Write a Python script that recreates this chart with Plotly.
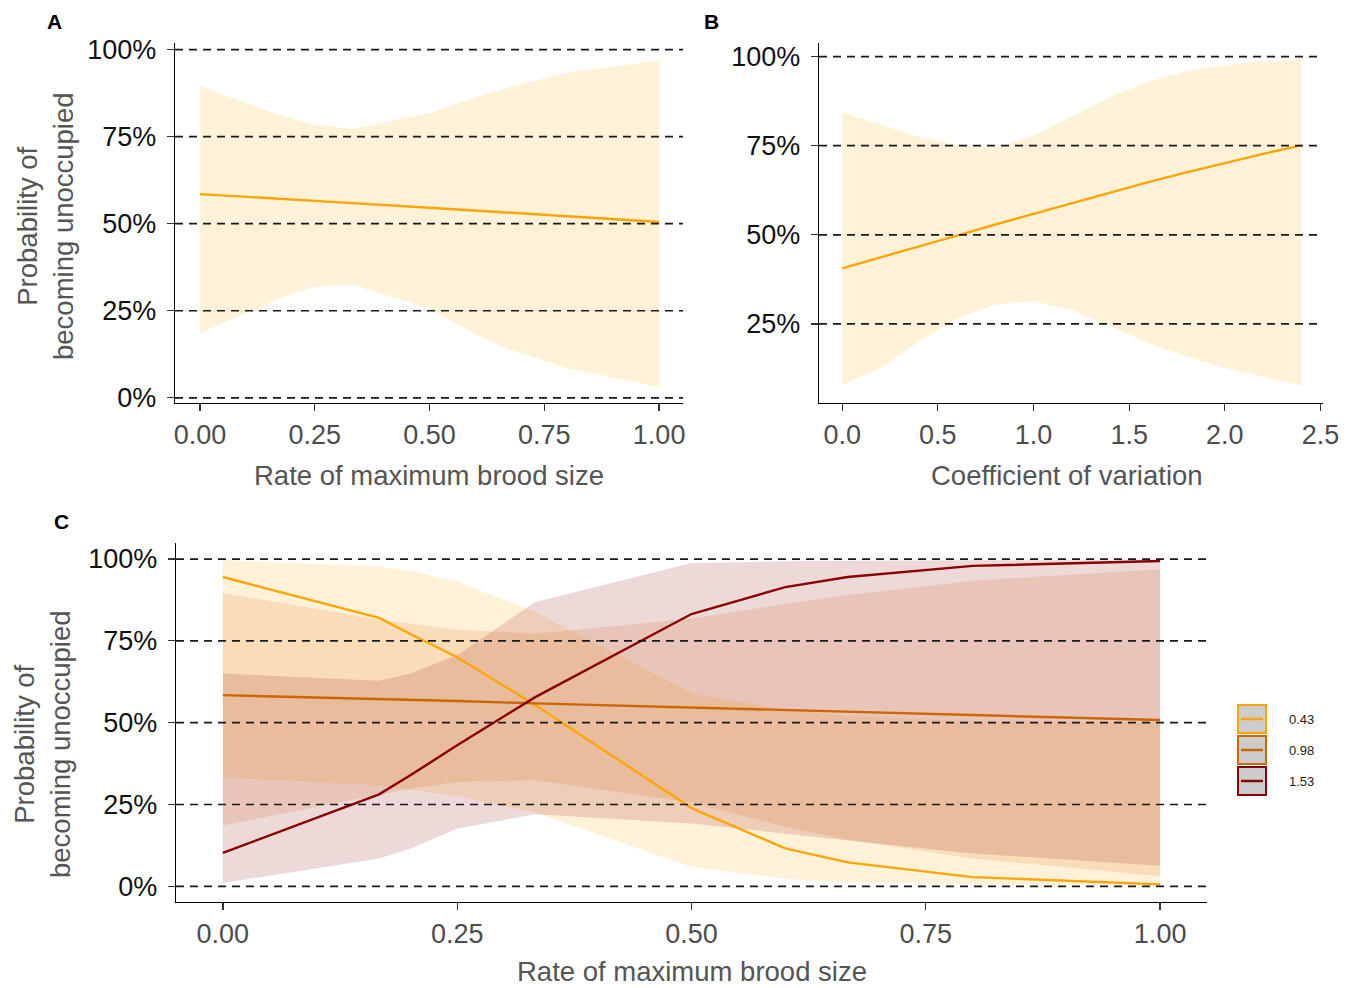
import plotly.graph_objects as go

# body margin is removed by a post script, so the figure fills the page
OFF = 0
W, H = 1356, 988

# ---------------- data ----------------
# Panel A: rate of maximum brood size
A_X = [0, 0.1667, 0.2, 0.25, 0.3333, 0.5, 0.6, 0.6667, 0.8, 1.0]
A_LINE = [58.5, 57.3, 57.0, 56.6, 55.9, 54.6, 53.8, 53.3, 52.2, 50.5]
A_UPPER = [89.6, 81.5, 80.3, 78.4, 77.2, 81.8, 86.3, 89.0, 93.4, 96.9]
A_LOWER = [18.6, 28.0, 29.8, 31.9, 32.4, 25.6, 18.2, 14.2, 8.5, 3.1]

# Panel B: coefficient of variation
B_X = [0, 0.2, 0.4, 0.6, 0.8, 1.0, 1.2, 1.4, 1.6, 1.8, 2.0, 2.2, 2.4]
B_LINE = [40.6, 43.6, 46.7, 49.8, 52.9, 55.9, 59.0, 61.9, 64.8, 67.5, 70.2, 72.7, 75.1]
B_UPPER = [84.4, 81.0, 77.5, 75.2, 74.5, 77.8, 83.2, 88.7, 93.0, 95.9, 97.6, 98.7, 99.0]
B_LOWER = [7.9, 12.6, 20.0, 26.5, 30.4, 31.3, 29.0, 24.3, 19.6, 15.8, 12.6, 10.2, 7.7]

# Panel C: three coefficient-of-variation levels
C_X = [0, 0.1667, 0.2, 0.25, 0.3333, 0.5, 0.6, 0.6667, 0.8, 1.0]
C_LEVELS = ["0.43", "0.98", "1.53"]
C_LINE_043 = [94.5, 82.0, 77.1, 70.0, 55.4, 23.9, 11.6, 7.3, 2.8, 0.6]
C_UPPER_043 = [99.7, 97.7, 96.4, 93.1, 83.9, 58.9, 54.0, 52.0, 50.5, 50.0]
C_LOWER_043 = [33.4, 30.8, 29.6, 27.5, 22.5, 5.9, 2.2, 1.3, 0.6, 0.2]
C_LINE_098 = [58.4, 57.3, 57.0, 56.6, 55.9, 54.6, 53.8, 53.3, 52.3, 50.8]
C_UPPER_098 = [89.6, 81.5, 80.3, 78.4, 77.2, 81.8, 86.3, 89.0, 93.4, 96.9]
C_LOWER_098 = [18.6, 28.0, 29.8, 31.9, 32.4, 25.6, 18.2, 14.2, 8.5, 3.1]
C_LINE_153 = [10.2, 28.1, 33.9, 43.1, 57.8, 83.2, 91.4, 94.5, 97.9, 99.4]
C_UPPER_153 = [65.0, 62.8, 65.0, 70.6, 86.9, 98.8, 99.3, 99.5, 99.6, 99.7]
C_LOWER_153 = [1.0, 8.5, 11.5, 17.6, 22.0, 19.2, 16.1, 14.0, 10.0, 6.3]

Y_TICKS = [0, 25, 50, 75, 100]
Y_TICKTEXT = ["0%", "25%", "50%", "75%", "100%"]
B_Y_TICKS = [25, 50, 75, 100]
B_Y_TICKTEXT = ["25%", "50%", "75%", "100%"]
A_X_TICKS = [0, 0.25, 0.5, 0.75, 1.0]
A_X_TICKTEXT = ["0.00", "0.25", "0.50", "0.75", "1.00"]
B_X_TICKS = [0, 0.5, 1.0, 1.5, 2.0, 2.5]
B_X_TICKTEXT = ["0.0", "0.5", "1.0", "1.5", "2.0", "2.5"]
HLINES = [0, 25, 50, 75, 100]
B_HLINES = [25, 50, 75, 100]

# ---------------- styles ----------------
COL = {"0.43": "#FFA500", "0.98": "#CD6600", "1.53": "#8B0000"}
FILL = {"0.43": "rgba(255,165,0,0.15)", "0.98": "rgba(205,102,0,0.15)", "1.53": "rgba(139,0,0,0.15)"}
FONT = "Liberation Sans, Arial, Helvetica, sans-serif"
LW = 2.4
TICK_SIZE = 27
TITLE_SIZE = 27.5

fig = go.Figure()


def add_band(x, lo, hi, fill, xa, ya):
    fig.add_trace(go.Scatter(
        x=list(x) + list(x)[::-1], y=list(hi) + list(lo)[::-1],
        fill="toself", fillcolor=fill, line=dict(width=0), mode="lines",
        hoverinfo="skip", showlegend=False, xaxis=xa, yaxis=ya))


def add_line(x, y, color, xa, ya):
    fig.add_trace(go.Scatter(x=x, y=y, mode="lines", line=dict(color=color, width=LW),
                             showlegend=False, xaxis=xa, yaxis=ya))


# Panel A
add_band(A_X, A_LOWER, A_UPPER, FILL["0.43"], "x", "y")
add_line(A_X, A_LINE, COL["0.43"], "x", "y")
# Panel B
add_band(B_X, B_LOWER, B_UPPER, FILL["0.43"], "x2", "y2")
add_line(B_X, B_LINE, COL["0.43"], "x2", "y2")
# Panel C
c_bands = [(C_LOWER_043, C_UPPER_043), (C_LOWER_098, C_UPPER_098), (C_LOWER_153, C_UPPER_153)]
c_lines = [C_LINE_043, C_LINE_098, C_LINE_153]
for lev, (lo, hi) in zip(C_LEVELS, c_bands):
    add_band(C_X, lo, hi, FILL[lev], "x3", "y3")
for lev, ln in zip(C_LEVELS, c_lines):
    add_line(C_X, ln, COL[lev], "x3", "y3")


def PX(p):  # page pixel x -> paper
    return (p - OFF) / W


def PY(p):  # page pixel y -> paper
    return 1 - (p - OFF) / H


def xdom(a, b):
    return [PX(a), PX(b)]


def ydom(top, bottom):
    return [PY(bottom), PY(top)]


def axis_common(color):
    return dict(showgrid=False, zeroline=False, showline=True, linecolor="black",
                linewidth=1.4, ticks="outside", ticklen=7, tickwidth=1.3, tickcolor="#333333",
                tickfont=dict(family=FONT, size=TICK_SIZE, color=color), tickmode="array",
                fixedrange=True, automargin=False)


fig.update_layout(
    template="none",
    width=W, height=H, margin=dict(l=0, r=0, t=0, b=0, pad=0), autosize=False,
    plot_bgcolor="white", paper_bgcolor="white", showlegend=False,
    xaxis=dict(**axis_common("#4D4D4D"), domain=xdom(175, 683), range=[-0.0545, 1.052],
               tickvals=A_X_TICKS, ticktext=A_X_TICKTEXT, anchor="y", ticklabelstandoff=0),
    yaxis=dict(**axis_common("#111111"), domain=ydom(43, 403), range=[-1.5, 101.9],
               tickvals=Y_TICKS, ticktext=Y_TICKTEXT, anchor="x", ticklabelstandoff=5),
    xaxis2=dict(**axis_common("#4D4D4D"), domain=xdom(819, 1323), range=[-0.121, 2.513],
                tickvals=B_X_TICKS, ticktext=B_X_TICKTEXT, anchor="y2", ticklabelstandoff=0),
    yaxis2=dict(**axis_common("#111111"), domain=ydom(43, 403), range=[2.83, 103.8],
                tickvals=B_Y_TICKS, ticktext=B_Y_TICKTEXT, anchor="x2", ticklabelstandoff=5),
    xaxis3=dict(**axis_common("#4D4D4D"), domain=xdom(176, 1207), range=[-0.05, 1.05],
                tickvals=A_X_TICKS, ticktext=A_X_TICKTEXT, anchor="y3", ticklabelstandoff=0),
    yaxis3=dict(**axis_common("#111111"), domain=ydom(543, 902), range=[-4.8, 104.9],
                tickvals=Y_TICKS, ticktext=Y_TICKTEXT, anchor="x3", ticklabelstandoff=5),
)

shapes = []
DASH = dict(color="#1a1a1a", width=1.7, dash="8px,6px")
for v in HLINES:
    shapes.append(dict(type="line", xref="x domain", yref="y", x0=0, x1=1, y0=v, y1=v,
                       line=DASH, layer="above"))
    shapes.append(dict(type="line", xref="x3 domain", yref="y3", x0=0, x1=1, y0=v, y1=v,
                       line=DASH, layer="above"))
for v in B_HLINES:
    shapes.append(dict(type="line", xref="x2 domain", yref="y2", x0=0, x1=1, y0=v, y1=v,
                       line=DASH, layer="above"))

# legend for panel C (manual keys)
annotations = []
key_tops = [705, 736, 767]
for lev, top in zip(C_LEVELS, key_tops):
    x0, x1 = 1238, 1266
    y0, y1 = top, top + 28
    shapes.append(dict(type="rect", xref="paper", yref="paper",
                       x0=PX(x0), x1=PX(x1), y0=PY(y1), y1=PY(y0),
                       fillcolor="#CCCCCC", line=dict(color=COL[lev], width=2)))
    ym = PY((y0 + y1) / 2)
    shapes.append(dict(type="line", xref="paper", yref="paper",
                       x0=PX(x0 + 3), x1=PX(x1 - 3), y0=ym, y1=ym,
                       line=dict(color=COL[lev], width=2.5)))
    annotations.append(dict(text=lev, xref="paper", yref="paper", x=PX(1287), y=ym,
                            xanchor="left", yanchor="middle", showarrow=False,
                            font=dict(family=FONT, size=13, color="#222222")))

TITLE_FONT = dict(family=FONT, size=TITLE_SIZE, color="#555555")
LABEL_FONT = dict(family=FONT, size=21, color="black")
YTITLE = "Probability of<br>becoming unoccupied"
annotations += [
    dict(text="<b>A</b>", x=PX(54), y=PY(21), font=LABEL_FONT),
    dict(text="<b>B</b>", x=PX(711), y=PY(21), font=LABEL_FONT),
    dict(text="<b>C</b>", x=PX(61), y=PY(521), font=LABEL_FONT),
    dict(text=YTITLE, x=PX(45), y=PY(226), textangle=-90, font=TITLE_FONT),
    dict(text=YTITLE, x=PX(42), y=PY(744), textangle=-90, font=TITLE_FONT),
    dict(text="Rate of maximum brood size", x=PX(429), y=PY(475), font=TITLE_FONT),
    dict(text="Coefficient of variation", x=PX(1067), y=PY(475), font=TITLE_FONT),
    dict(text="Rate of maximum brood size", x=PX(692), y=PY(971), font=TITLE_FONT),
]
for a in annotations[-8:]:
    a.update(xref="paper", yref="paper", showarrow=False, xanchor="center", yanchor="middle")

fig.update_layout(shapes=shapes, annotations=annotations)
fig.write_html("out.html", config={"displayModeBar": False, "staticPlot": True},
               post_script="document.body.style.margin='0px';document.body.style.overflow='hidden';")
